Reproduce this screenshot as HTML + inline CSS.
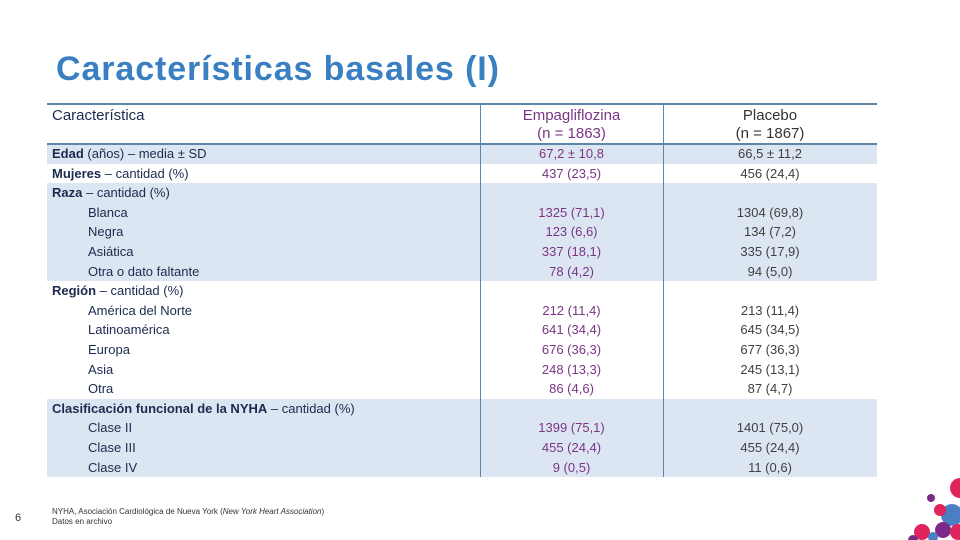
<!DOCTYPE html>
<html><head><meta charset="utf-8"><style>
body{margin:0;width:960px;height:540px;overflow:hidden;background:#fff;font-family:"Liberation Sans",sans-serif;position:relative}
.a{position:absolute}
.row{position:absolute;left:47px;width:830px;height:19.6px;font-size:13px;line-height:19.6px;color:#1b2a4e}
.sh{background:#dce6f2}
.l{position:absolute;left:5px;white-space:nowrap}
.l.i{left:41px}
.e{position:absolute;left:433px;width:183px;text-align:center;color:#7a3585}
.p{position:absolute;left:616px;width:214px;text-align:center;color:#404040}
</style></head><body>
<div class="a" style="left:56px;top:50px;font-size:34px;letter-spacing:0.9px;font-weight:bold;color:#3a7fc1;white-space:nowrap">Características basales (I)</div>
<div class="a" style="left:47px;top:103px;width:830px;height:2px;background:#5d86ab"></div>
<div class="a" style="left:52px;top:107px;font-size:15px;color:#1b2a4e">Característica</div>
<div class="a" style="left:480px;top:107px;width:183px;text-align:center;font-size:15px;line-height:18px;color:#7a3585">Empagliflozina<br>(n = 1863)</div>
<div class="a" style="left:663px;top:107px;width:214px;text-align:center;font-size:15px;line-height:18px;color:#333">Placebo<br>(n = 1867)</div>
<div id="rows"></div>
<div class="a" style="left:47px;top:143px;width:830px;height:2px;background:#5d86ab"></div>
<div class="a" style="left:480px;top:104px;width:1px;height:373px;background:#5d86ab"></div>
<div class="a" style="left:663px;top:104px;width:1px;height:373px;background:#5d86ab"></div>
<div class="a" style="left:15px;top:512px;font-size:11px;color:#333">6</div>
<div class="a" style="left:52px;top:507px;font-size:8px;line-height:10px;color:#333">NYHA, Asociación Cardiológica de Nueva York (<i>New York Heart Association</i>)<br>Datos en archivo</div>
<svg class="a" style="left:900px;top:470px" width="60" height="70">
<circle cx="60" cy="18" r="10" fill="#e0245e"/><circle cx="52" cy="45" r="11" fill="#4a7fc4"/><circle cx="40" cy="40" r="6" fill="#e0245e"/><circle cx="31" cy="28" r="4" fill="#7b2a8a"/><circle cx="22" cy="62" r="8" fill="#e0245e"/><circle cx="43" cy="60" r="8" fill="#7b2a8a"/><circle cx="58" cy="62" r="8" fill="#e0245e"/><circle cx="13" cy="70" r="5" fill="#7b2a8a"/><circle cx="33" cy="67" r="5" fill="#4a7fc4"/>
</svg>
<script>
const labels=[["<b>Edad</b> (años) – media ± SD",0],["<b>Mujeres</b> – cantidad (%)",0],["<b>Raza</b> – cantidad (%)",0],["Blanca",1],["Negra",1],["Asiática",1],["Otra o dato faltante",1],["<b>Región</b> – cantidad (%)",0],["América del Norte",1],["Latinoamérica",1],["Europa",1],["Asia",1],["Otra",1],["<b>Clasificación funcional de la NYHA</b> – cantidad (%)",0],["Clase II",1],["Clase III",1],["Clase IV",1]];
const empa=["67,2 ± 10,8","437 (23,5)","","1325 (71,1)","123 (6,6)","337 (18,1)","78 (4,2)","","212 (11,4)","641 (34,4)","676 (36,3)","248 (13,3)","86 (4,6)","","1399 (75,1)","455 (24,4)","9 (0,5)"];
const plac=["66,5 ± 11,2","456 (24,4)","","1304 (69,8)","134 (7,2)","335 (17,9)","94 (5,0)","","213 (11,4)","645 (34,5)","677 (36,3)","245 (13,1)","87 (4,7)","","1401 (75,0)","455 (24,4)","11 (0,6)"];
const shaded=[1,0,1,1,1,1,1,0,0,0,0,0,0,1,1,1,1];
const c=document.getElementById('rows');
labels.forEach((lb,i)=>{
 const r=document.createElement('div');
 r.className='row'+(shaded[i]?' sh':'');
 r.style.top=(144+i*19.6)+'px';
 
 
 r.innerHTML='<div class="l'+(lb[1]?' i':'')+'">'+lb[0]+'</div><div class="e">'+empa[i]+'</div><div class="p">'+plac[i]+'</div>';
 c.appendChild(r);
});
</script>
</body></html>
